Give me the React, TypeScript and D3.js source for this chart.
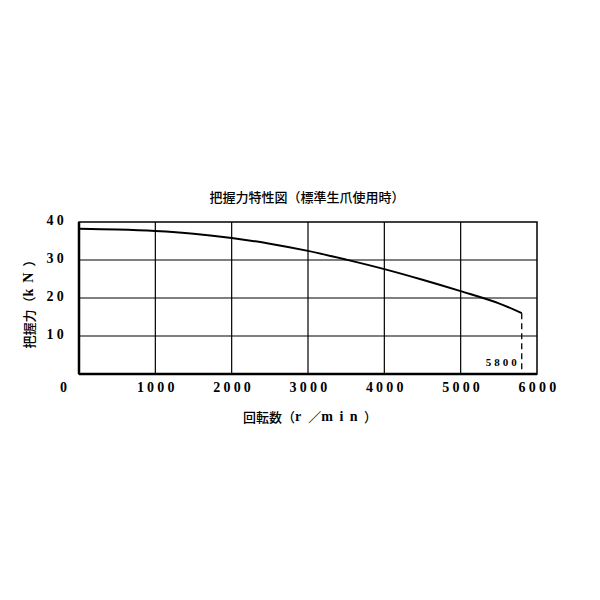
import * as d3 from "d3";
import React from "react";

const rpm = [0, 500, 1000, 1500, 2000, 2500, 3000, 3500, 4000, 4500, 5000, 5500, 5800];
const force = [38.2, 38.0, 37.6, 36.9, 35.8, 34.3, 32.4, 30.1, 27.6, 24.8, 21.8, 18.6, 16.0];
const xTicks = [0, 1000, 2000, 3000, 4000, 5000, 6000];
const yTicks = [10, 20, 30, 40];
const maxRpm = 5800;

const title = "把握力特性図（標準生爪使用時）";

const jp = "'Noto Sans CJK JP', sans-serif";
const num = "'Liberation Serif', serif";

export default function App() {
  const width = 600;
  const height = 600;
  const margin = { left: 79, right: 63, top: 222, bottom: 226 };

  const x = d3.scaleLinear([0, 6000], [margin.left, width - margin.right]);
  const y = d3.scaleLinear([0, 40], [height - margin.bottom, margin.top]);

  const line = d3
    .line<number>()
    .curve(d3.curveCatmullRom)
    .x((i) => x(rpm[i]))
    .y((i) => y(force[i]));

  const x0 = x(0);
  const x1 = x(6000);
  const y0 = y(0);
  const y1 = y(40);

  return (
    <svg
      width={width}
      height={height}
      viewBox={`0 0 ${width} ${height}`}
      style={{ position: "absolute", left: 0, top: 0, background: "#fff" }}
    >
      {/* grid */}
      {xTicks.slice(1, -1).map((t) => (
        <line key={"gx" + t} x1={x(t)} x2={x(t)} y1={y1} y2={y0} stroke="#000" strokeWidth={1.2} />
      ))}
      {yTicks.slice(0, -1).map((t) => (
        <line key={"gy" + t} x1={x0} x2={x1} y1={y(t)} y2={y(t)} stroke="#000" strokeWidth={1.2} />
      ))}

      {/* frame */}
      <rect x={x0} y={y1} width={x1 - x0} height={y0 - y1} fill="none" stroke="#000" strokeWidth={1.5} />
      <line x1={x0} x2={x0} y1={y1} y2={y0} stroke="#000" strokeWidth={2.5} />
      <line x1={x0} x2={x1} y1={y0} y2={y0} stroke="#000" strokeWidth={2.5} />

      {/* curve */}
      <path d={line(d3.range(rpm.length)) ?? ""} fill="none" stroke="#000" strokeWidth={2} />

      {/* max speed marker */}
      <line
        x1={x(maxRpm)}
        x2={x(maxRpm)}
        y1={y(force[force.length - 1])}
        y2={y0}
        stroke="#000"
        strokeWidth={1.3}
        strokeDasharray="6,4"
      />
      <text
        x={x(maxRpm) - 2}
        y={y(2.9)}
        textAnchor="end"
        fontFamily={num}
        fontWeight="bold"
        fontSize={11}
        letterSpacing={3}
        dominantBaseline="middle"
      >
        {String(maxRpm)}
      </text>

      {/* x tick labels */}
      {xTicks.map((t) => (
        <text
          key={"xt" + t}
          x={t === 0 ? x(t) - 14 : x(t) + 2}
          y={389}
          textAnchor="middle"
          dominantBaseline="middle"
          fontFamily={num}
          fontWeight="bold"
          fontSize={14}
          letterSpacing={3.2}
        >
          {String(t)}
        </text>
      ))}

      {/* y tick labels */}
      {yTicks.map((t) => (
        <text
          key={"yt" + t}
          x={x0 - 12}
          y={y(t)}
          textAnchor="end"
          dominantBaseline="middle"
          fontFamily={num}
          fontWeight="bold"
          fontSize={14}
          letterSpacing={3.2}
        >
          {String(t)}
        </text>
      ))}

      {/* title */}
      <text x={307} y={198} textAnchor="middle" dominantBaseline="middle" fontFamily={jp} fontWeight={500} fontSize={13}>
        {title}
      </text>

      {/* x axis label */}
      <text x={243} y={418} dominantBaseline="middle" fontFamily={jp} fontWeight={500} fontSize={13}>
        回転数（
        <tspan fontFamily={num} fontWeight="bold" fontSize={14} letterSpacing={7}>r</tspan>
        ／
        <tspan fontFamily={num} fontWeight="bold" fontSize={14} letterSpacing={6.5}>min</tspan>
        ）
      </text>

      {/* y axis label */}
      <text
        transform={`translate(30, ${(y0 + y1) / 2 + 3}) rotate(-90)`}
        textAnchor="middle"
        dominantBaseline="middle"
        fontFamily={jp}
        fontWeight={500}
        fontSize={13}
      >
        把握力（
        <tspan fontFamily={num} fontWeight="bold" fontSize={14} letterSpacing={6}>kN</tspan>
        ）
      </text>
    </svg>
  );
}
